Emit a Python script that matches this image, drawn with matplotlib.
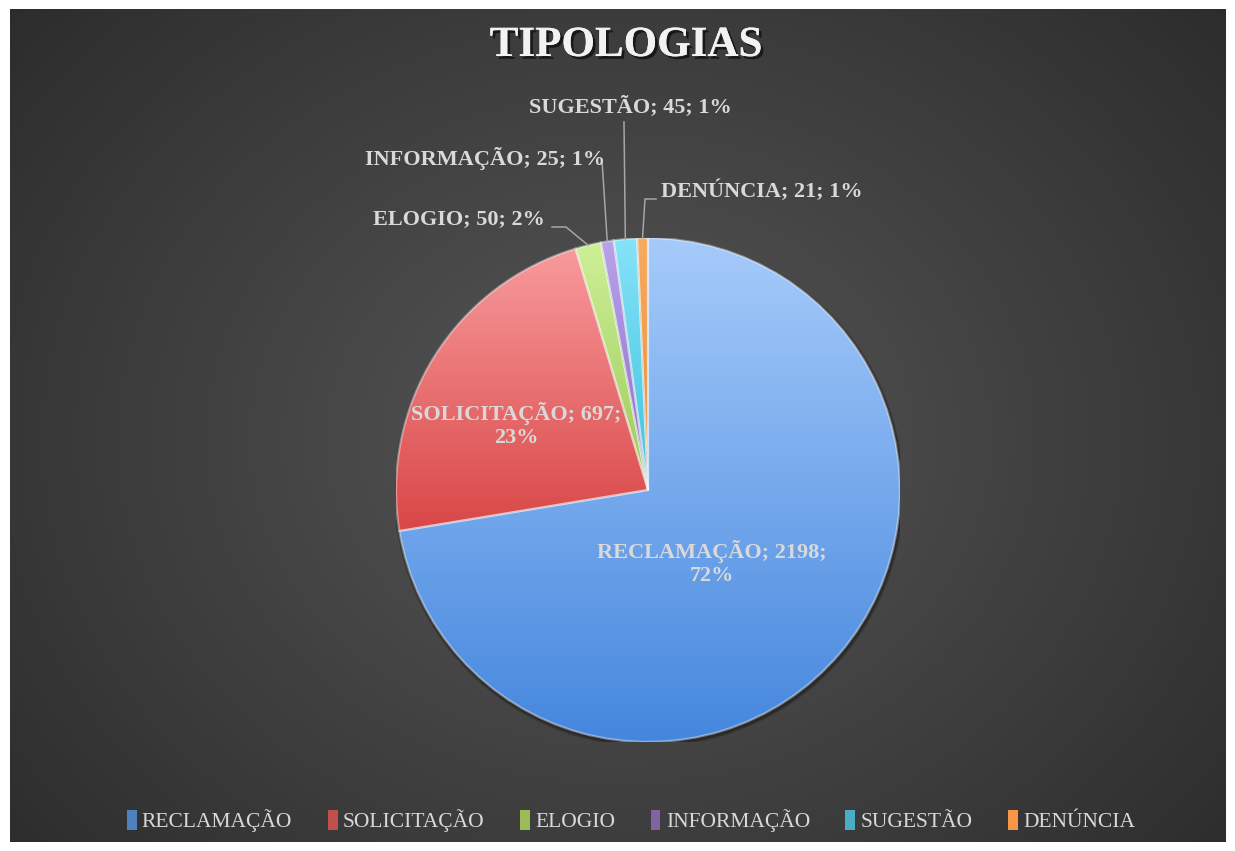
import numpy as np
import matplotlib.pyplot as plt
import matplotlib.patheffects as pe
from matplotlib.colors import LinearSegmentedColormap
from matplotlib.patches import PathPatch

# --- data ---
categorias = ["RECLAMAÇÃO", "SOLICITAÇÃO", "ELOGIO", "INFORMAÇÃO", "SUGESTÃO", "DENÚNCIA"]
valores = [2198, 697, 50, 25, 45, 21]
percentuais = ["72%", "23%", "2%", "1%", "1%", "1%"]

# light (top) / dark (bottom) colour per slice
cor_topo = ["#a6cbfa", "#f89a9c", "#cdf095", "#b8a3ea", "#86e3f8", "#f7ab62"]
cor_base = ["#4587de", "#d94747", "#9cc95a", "#8a6cc4", "#3ec1de", "#e98a30"]
cor_legenda = ["#4f81bd", "#c0504d", "#9bbb59", "#8064a2", "#4bacc6", "#f79646"]

W, H, DPI = 1235, 851, 100
fig = plt.figure(figsize=(W / DPI, H / DPI), dpi=DPI, facecolor="white")

# --- dark radial background ---
bg = fig.add_axes([10 / W, 9 / H, 1216 / W, 833 / H])
yy, xx = np.mgrid[0:833, 0:1216]
d = np.sqrt(((xx - 610) / 820) ** 2 + ((yy - 430) / 680) ** 2)
shade = np.clip(0.34 - 0.17 * d, 0.16, 0.34)
bg.imshow(np.dstack([shade] * 3), aspect="auto", extent=[0, 1, 0, 1])
bg.set_axis_off()

# --- pie axes: radius 252 px, centre at (648, 490) ---
R = 252
cx, cy = 648, 490
ax = fig.add_axes([(cx - R) / W, (H - cy - R) / H, 2 * R / W, 2 * R / H])
ax.set_axis_off()

wedges, _ = ax.pie(valores, startangle=90, counterclock=False, radius=1,
                   wedgeprops=dict(linewidth=0), colors=["none"] * 6)

# soft shadow under the pie
for k, a in [(1.012, 0.25), (1.006, 0.35)]:
    ax.add_patch(plt.Circle((0.004, -0.008), k, facecolor="#111111", edgecolor="none",
                            alpha=a, zorder=1))

grad = np.linspace(0, 1, 256).reshape(-1, 1)
for w, c0, c1 in zip(wedges, cor_topo, cor_base):
    ext = w.get_path().get_extents()
    cmap = LinearSegmentedColormap.from_list("g", [c1, c0])
    im = ax.imshow(grad, cmap=cmap, origin="lower", aspect="auto",
                   extent=[ext.x0, ext.x1, ext.y0, ext.y1], zorder=2)
    im.set_clip_path(w)
    # bevel highlight on the slice edges
    ax.add_patch(PathPatch(w.get_path(), fill=False, edgecolor="white", alpha=0.4,
                           linewidth=1.6, zorder=3))
ax.set_xlim(-1, 1)
ax.set_ylim(-1, 1)

txt_cor = "#d9d9d9"
serif = ["Liberation Serif", "DejaVu Serif"]


def px(x, y):
    return ((x - cx) / R, (cy - y) / R)


def rotulo(i, multilinha=False):
    if multilinha:
        return f"{categorias[i]}; {valores[i]};\n{percentuais[i]}"
    return f"{categorias[i]}; {valores[i]}; {percentuais[i]}"


def ponta(i):
    w = wedges[i]
    a = np.deg2rad((w.theta1 + w.theta2) / 2)
    return np.cos(a), np.sin(a)


# labels inside the two big slices
for i, pos in [(0, (712, 563)), (1, (516, 425))]:
    ax.text(*px(*pos), rotulo(i, True), ha="center", va="center", fontsize=16,
            fontweight="bold", color=txt_cor, family=serif, linespacing=1.2,
            zorder=5, clip_on=False)

# outside labels with leader lines
externos = [
    (2, (459, 219), [(552, 227), (566, 227)]),
    (3, (485, 159), [(602, 160)]),
    (4, (630, 107), [(624, 122)]),
    (5, (762, 191), [(656, 199), (645, 199)]),
]
for i, pos, linha in externos:
    ax.text(*px(*pos), rotulo(i), ha="center", va="center", fontsize=16,
            fontweight="bold", color=txt_cor, family=serif, zorder=5, clip_on=False)
    pts = [px(*p) for p in linha] + [ponta(i)]
    xs, ys = zip(*pts)
    ax.plot(xs, ys, color="#a6a6a6", linewidth=1.1, zorder=4, clip_on=False)

# title
fig.text(626 / W, 1 - 46 / H, "TIPOLOGIAS", ha="center", va="center", fontsize=31,
         fontweight="bold", color="#f2f2f2", family=serif,
         path_effects=[pe.withSimplePatchShadow(offset=(2, -2), shadow_rgbFace="black", alpha=0.6), pe.Normal()])

# legend
handles = [plt.Rectangle((0, 0), 1, 1, facecolor=c, edgecolor="none") for c in cor_legenda]
leg = fig.legend(handles, categorias, loc="center", bbox_to_anchor=(631 / W, 1 - 821 / H),
                 ncol=6, frameon=False, handlelength=0.45, handleheight=1.0,
                 handletextpad=0.25, columnspacing=1.65,
                 prop=dict(family=serif, size=15.5))
for t in leg.get_texts():
    t.set_color(txt_cor)

fig.savefig("out.png", dpi=DPI, facecolor="white")
